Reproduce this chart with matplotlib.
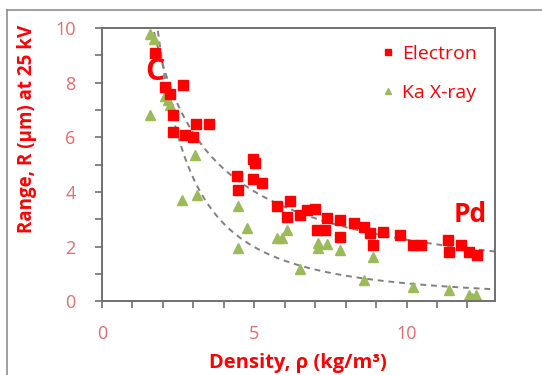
import numpy as np
import matplotlib.pyplot as plt
from matplotlib.lines import Line2D
from matplotlib.ticker import MultipleLocator

plt.rcParams['font.family'] = ['Open Sans', 'DejaVu Sans']

# Electron range data
e_density = [1.74, 2.07, 2.24, 2.66, 2.33, 2.33, 2.73, 3.0, 3.1, 3.5, 4.97,
             5.03, 4.44, 4.97, 5.26, 4.47, 5.76, 6.18, 6.08, 6.5, 6.74, 7.0,
             7.07, 7.33, 7.4, 7.83, 7.83, 8.26, 8.59, 8.8, 8.9, 9.24, 9.8,
             10.2, 10.46, 11.35, 11.38, 11.78, 12.04, 12.33]
e_range = [9.1, 7.84, 7.6, 7.9, 6.8, 6.2, 6.08, 6.0, 6.5, 6.5, 5.2,
           5.05, 4.58, 4.47, 4.32, 4.07, 3.48, 3.66, 3.08, 3.15, 3.33, 3.37,
           2.6, 2.6, 3.04, 2.97, 2.34, 2.86, 2.71, 2.49, 2.05, 2.53, 2.42,
           2.05, 2.05, 2.23, 1.8, 2.05, 1.8, 1.68]

# Ka X-ray range data
x_density = [1.58, 1.72, 1.58, 2.07, 2.17, 2.24, 2.63, 3.06, 3.12, 4.47,
             4.77, 4.47, 5.76, 5.92, 6.08, 6.5, 7.1, 7.1, 7.4, 7.83, 8.9,
             8.6, 10.2, 11.38, 12.04, 12.27, 12.15]
x_range = [9.8, 9.6, 6.8, 7.5, 7.36, 7.2, 3.7, 5.35, 3.9, 3.5,
           2.67, 1.94, 2.3, 2.3, 2.6, 1.17, 2.12, 1.94, 2.1, 1.87, 1.6,
           0.77, 0.51, 0.4, 0.22, 0.22, 0.12]

fig = plt.figure(figsize=(5.42, 3.75), dpi=100)
ax = fig.add_axes([0.188, 0.197, 0.725, 0.728])

red = '#FF0000'
green = '#9BBB59'

# power-law trendlines (least squares in log space)
def power_fit(x, y):
    b, lna = np.polyfit(np.log(x), np.log(y), 1)
    return np.exp(lna), b

xs = np.linspace(1.5, 13, 200)
for xd, yd in [(e_density, e_range), (x_density, x_range)]:
    a, b = power_fit(xd, yd)
    ax.plot(xs, a * xs ** b, color='#808080', lw=1.4, ls=(0, (3, 2.5)), zorder=1)

ax.plot(e_density, e_range, 's', color=red, ms=6.8, zorder=3)
ax.plot(x_density, x_range, '^', color=green, ms=6.8, zorder=2)

ax.text(1.42, 8.1, 'C', color=red, fontsize=22, fontweight='bold')
ax.text(11.55, 2.9, 'Pd', color=red, fontsize=19, fontweight='bold')

ax.set_xlim(0, 12.9)
ax.set_ylim(0, 10)
ax.xaxis.set_major_locator(MultipleLocator(5))
ax.xaxis.set_minor_locator(MultipleLocator(1))
ax.yaxis.set_major_locator(MultipleLocator(2))
ax.yaxis.set_minor_locator(MultipleLocator(1))

frame = '#707070'
for s in ax.spines.values():
    s.set_color(frame)
    s.set_linewidth(1.4)
ax.tick_params(which='both', direction='out', color=frame, labelcolor='#E46C6C',
               labelsize=13, length=5, width=1.2)
ax.tick_params(axis='x', pad=12)
ax.tick_params(axis='y', pad=14)

ax.set_xlabel('Density, ρ (kg/m³)', color=red, fontsize=14.5, fontweight='bold')
ax.set_ylabel('Range, R (μm) at 25 kV', color=red, fontsize=13.5, fontweight='bold')
ax.xaxis.set_label_coords(0.5, -0.19)
ax.yaxis.set_label_coords(-0.165, 0.63)

handles = [Line2D([], [], ls='', marker='s', color=red, ms=4.5),
           Line2D([], [], ls='', marker='^', color=green, ms=4.5)]
leg = ax.legend(handles, ['Electron', 'Ka X-ray'], loc='upper right',
                frameon=False, fontsize=14, handlelength=0.7,
                handletextpad=0.4, labelspacing=1.05, borderaxespad=0.2,
                bbox_to_anchor=(0.985, 0.98))
for t in leg.get_texts():
    t.set_color(red)

# chart-area border (top and left edges visible)
border = '#909090'
fig.add_artist(Line2D([7 / 542, 7 / 542], [0, 1 - 10 / 375],
                      transform=fig.transFigure, color=border, lw=1.2))
fig.add_artist(Line2D([7 / 542, 1], [1 - 10 / 375, 1 - 10 / 375],
                      transform=fig.transFigure, color=border, lw=1.2))

fig.savefig('out.png', dpi=100)
